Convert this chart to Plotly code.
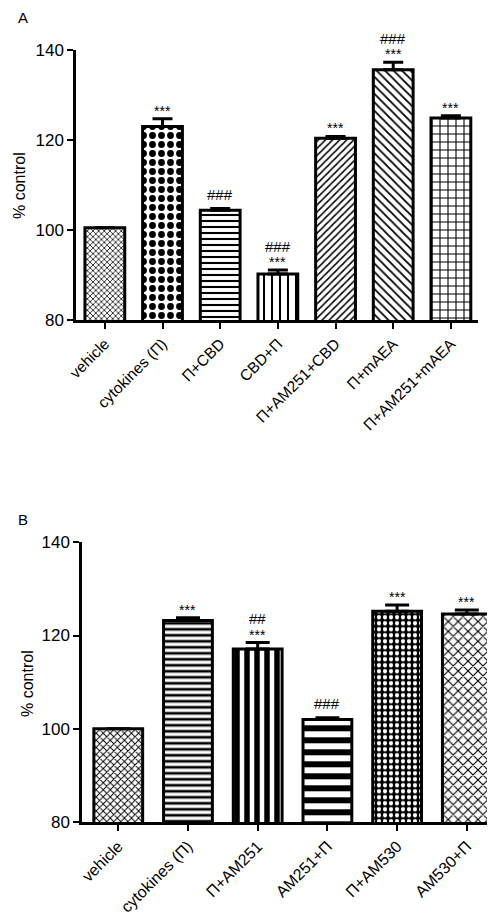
import plotly.graph_objects as go

# ---------------- data ----------------
labels_a = ["vehicle", "cytokines (Π)", "Π+CBD", "CBD+Π", "Π+AM251+CBD", "Π+mAEA", "Π+AM251+mAEA"]
values_a = [100.5, 123.0, 104.4, 90.2, 120.4, 135.6, 124.9]
sem_a = [0.0, 1.7, 0.4, 0.9, 0.4, 1.7, 0.5]
marks_a = [[], ["***"], ["###"], ["***", "###"], ["***"], ["***", "###"], ["***"]]  # bottom -> top

labels_b = ["vehicle", "cytokines (Π)", "Π+AM251", "AM251+Π", "Π+AM530", "AM530+Π"]
values_b = [100.0, 123.2, 117.1, 102.0, 125.2, 124.6]
sem_b = [0.0, 0.6, 1.4, 0.35, 1.35, 0.9]
marks_b = [[], ["***"], ["***", "##"], ["###"], ["***"], ["***"]]

y_ticks = [80, 100, 120, 140]

# ---------------- styling ----------------
W, H = 495, 914
FONT = "Liberation Sans, Arial, sans-serif"

pat_a = dict(
    shape=["x", ".", "-", "|", "/", "\\", "+"],
    size=[4, 9, 6, 8, 5, 6, 8],
    solidity=[0.35, 0.45, 0.35, 0.25, 0.3, 0.3, 0.25],
    fgcolor="black", bgcolor="white", fgopacity=1, fillmode="replace",
)
pat_b = dict(
    shape=["x", "-", "|", "-", ".", "x"],
    size=[5, 6, 10, 12, 6, 7],
    solidity=[0.35, 0.45, 0.55, 0.5, 0.4, 0.3],
    fgcolor=["black", "black", "black", "black", "white", "black"],
    bgcolor=["white", "white", "white", "white", "black", "white"],
    fgopacity=1, fillmode="replace",
)

fig = go.Figure()

def add_panel(labels, values, sems, pattern, xa, ya, cap_w, bar_w):
    n = len(labels)
    fig.add_trace(go.Bar(
        x=list(range(n)), y=values, width=bar_w,
        marker=dict(color="white", line=dict(color="black", width=3), pattern=pattern),
        error_y=dict(type="data", symmetric=False, array=sems, arrayminus=[0] * n,
                     color="black", thickness=3, width=cap_w),
        xaxis=xa, yaxis=ya, showlegend=False,
    ))

add_panel(labels_a, values_a, sem_a, pat_a, "x", "y", 10, 0.69)
add_panel(labels_b, values_b, sem_b, pat_b, "x2", "y2", 12, 0.70)

axis_common = dict(showline=True, linecolor="black", linewidth=2.5, ticks="outside",
                   ticklen=6, tickwidth=2, tickcolor="black", showgrid=False,
                   zeroline=False, automargin=False)

fig.update_layout(
    width=W, height=H, margin=dict(l=0, r=0, t=0, b=0),
    paper_bgcolor="white", plot_bgcolor="white",
    font=dict(family=FONT, color="black"),
    xaxis=dict(domain=[68 / W, 470 / W], range=[-0.5, 6.47],
               tickvals=list(range(len(labels_a))), ticktext=labels_a,
               tickangle=-45, tickfont=dict(size=15.5), anchor="y", **axis_common),
    yaxis=dict(domain=[1 - 312 / H, 1 - 42 / H], range=[80, 140], tickvals=y_ticks,
               tickfont=dict(size=17), anchor="x", **axis_common),
    xaxis2=dict(domain=[74 / W, 493 / W], range=[-0.52, 5.49],
                tickvals=list(range(len(labels_b))), ticktext=labels_b,
                tickangle=-45, tickfont=dict(size=16), anchor="y2", **axis_common),
    yaxis2=dict(domain=[1 - 814 / H, 1 - 534.3 / H], range=[80, 140], tickvals=y_ticks,
                tickfont=dict(size=17), anchor="x2", **axis_common),
)

ann = []

def add_marks(values, sems, marks, xr, yr):
    for i, (v, s, ms) in enumerate(zip(values, sems, marks)):
        shift = 0
        for j, m in enumerate(ms):
            if j == 0:
                shift = 8 if m == "***" else 14
            else:
                shift += 16
            ann.append(dict(x=i, y=v + s, xref=xr, yref=yr, text=m, showarrow=False,
                            yanchor="middle", yshift=shift,
                            font=dict(size=14 if m == "***" else 15, family=FONT)))

add_marks(values_a, sem_a, marks_a, "x", "y")
add_marks(values_b, sem_b, marks_b, "x2", "y2")

ann += [
    dict(x=15 / W, y=1 - 10 / H, xref="paper", yref="paper", text="A", showarrow=False,
         xanchor="center", yanchor="middle", font=dict(size=15)),
    dict(x=15 / W, y=1 - 511 / H, xref="paper", yref="paper", text="B", showarrow=False,
         xanchor="center", yanchor="middle", font=dict(size=15)),
    dict(x=12 / W, y=1 - 178 / H, xref="paper", yref="paper", text="% control", showarrow=False,
         textangle=-90, xanchor="center", yanchor="middle", font=dict(size=16)),
    dict(x=19 / W, y=1 - 676 / H, xref="paper", yref="paper", text="% control", showarrow=False,
         textangle=-90, xanchor="center", yanchor="middle", font=dict(size=16)),
]
fig.update_layout(annotations=ann)

fig.write_html("out.html")
